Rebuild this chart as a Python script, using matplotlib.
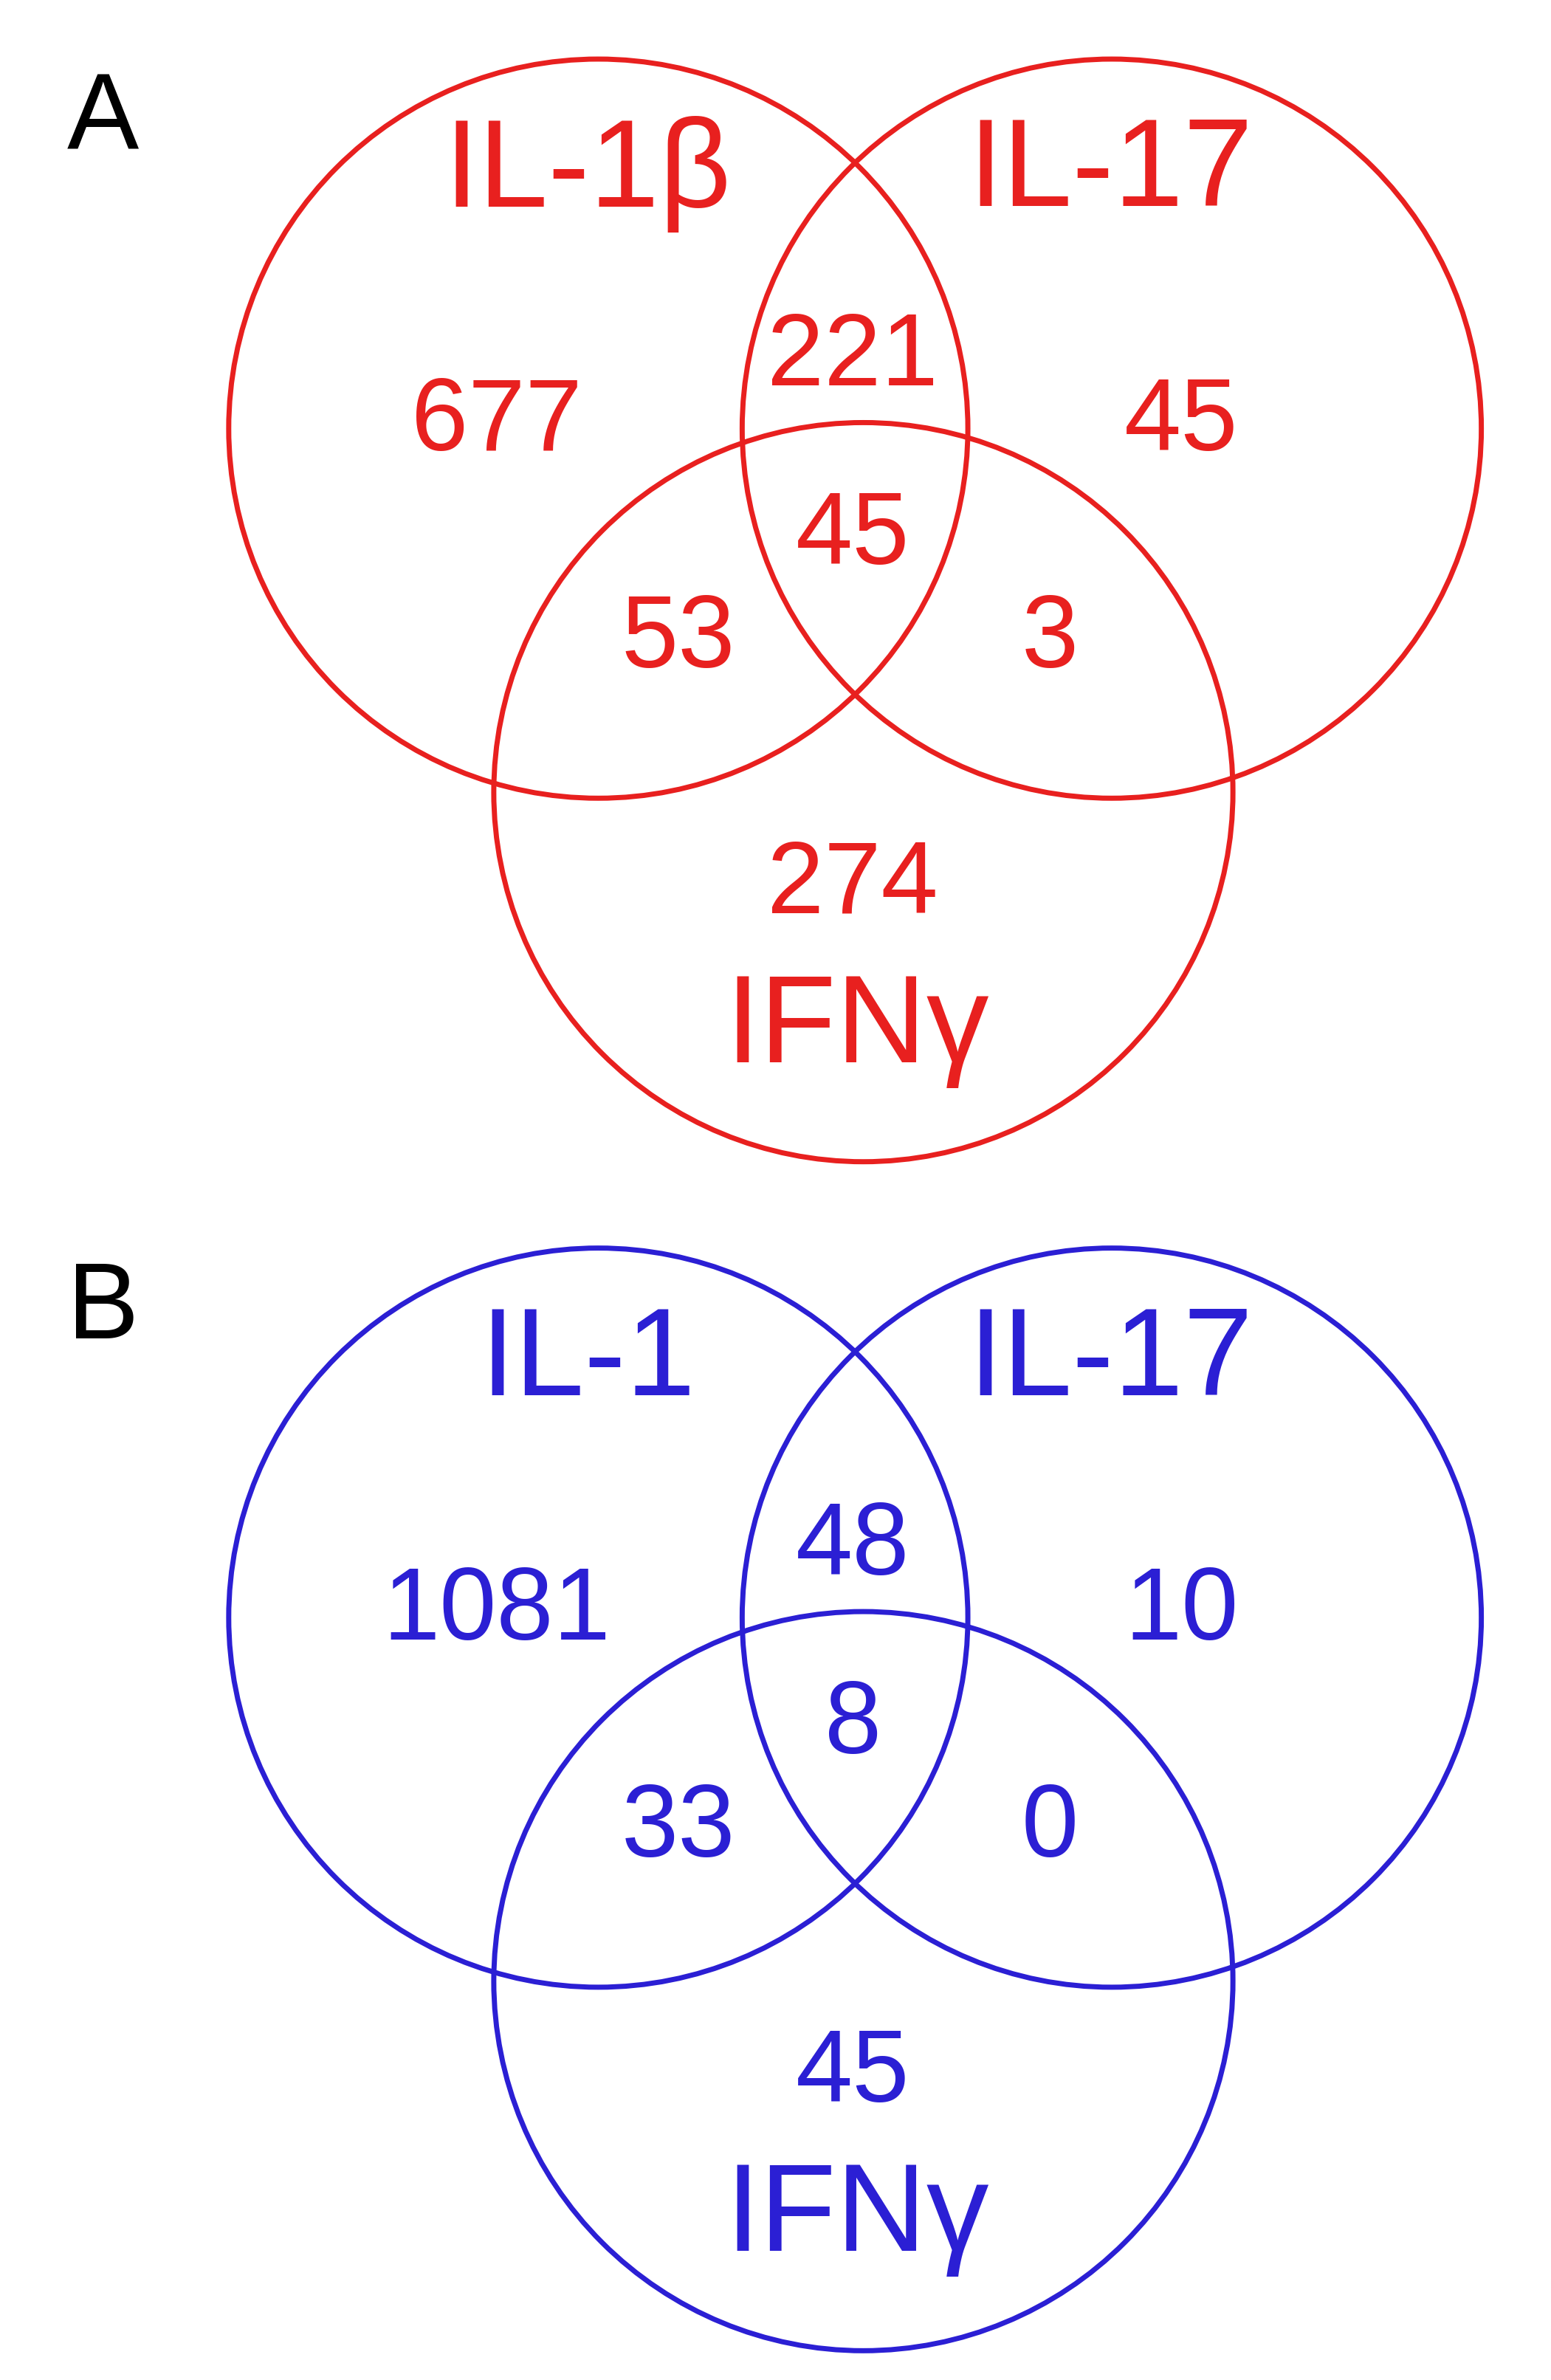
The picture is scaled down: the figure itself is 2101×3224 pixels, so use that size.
import matplotlib.pyplot as plt
from matplotlib.patches import Circle

plt.rcParams['font.family'] = ['Liberation Sans', 'DejaVu Sans']

# region order: only1, only17, onlyIFN, 1&17, 1&IFN, 17&IFN, all
counts_a = [677, 45, 274, 221, 53, 3, 45]
counts_b = [1081, 10, 45, 48, 33, 0, 8]
labels_a = ['IL-1β', 'IL-17', 'IFNγ']
labels_b = ['IL-1', 'IL-17', 'IFNγ']

W, H = 1024, 1024 * 3224 / 2101
fig = plt.figure(figsize=(21.01, 32.24), dpi=100)
ax = fig.add_axes([0, 0, 1, 1])
ax.set_xlim(0, W)
ax.set_ylim(H, 0)
ax.set_aspect('equal')
ax.axis('off')


def venn(y0, counts, labels, color, letter):
    # circle centers relative to panel origin
    centers = [(395, 283), (734, 283), (570, 523)]
    r = 244
    for cx, cy in centers:
        ax.add_patch(Circle((cx, y0 + cy), r, fill=False, ec=color, lw=5))
    pos = [(328, 280), (780, 280), (563, 585), (563, 237), (448, 423), (693, 423), (563, 355)]
    for (x, y), c in zip(pos, counts):
        ax.text(x, y0 + y, str(c), color=color, fontsize=100, ha='center', va='center')
    lpos = [(388, 115), (733, 115), (566, 680)]
    for (x, y), t in zip(lpos, labels):
        ax.text(x, y0 + y, t, color=color, fontsize=122, ha='center', va='center')
    ax.text(68, y0 + 80, letter, color='black', fontsize=105, ha='center', va='center')


venn(0, counts_a, labels_a, '#e8201f', 'A')
venn(785, counts_b, labels_b, '#2b1fd4', 'B')

fig.savefig('out.png', dpi=100)
